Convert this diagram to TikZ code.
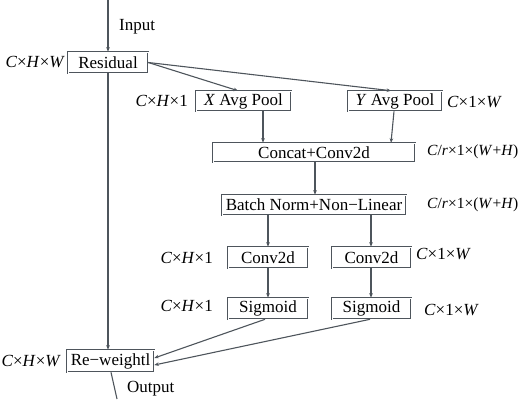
\documentclass[tikz,border=0pt]{standalone}
\usepackage{fontspec}
\setmainfont{Liberation Serif}
\usetikzlibrary{arrows.meta,calc}
\definecolor{linegray}{HTML}{4E555C}
\begin{document}
\begin{tikzpicture}[x=1pt,y=-1pt,
  block/.style={draw=linegray,line width=0.6pt,double=white,double distance=0.9pt,
    inner sep=0pt,minimum height=#1,font=\fontsize{17}{19}\selectfont},
  block/.default=20pt,
  dimlabel/.style={inner sep=0pt,font=\fontsize{17}{19}\selectfont},
  smalldim/.style={inner sep=0pt,font=\fontsize{15.5}{18}\selectfont},
  link/.style={draw=linegray,line width=1.1pt,-{Stealth[length=4.5pt,width=3.6pt]}},
  plain/.style={draw=linegray,line width=1.1pt}]
\useasboundingbox (0,0) rectangle (518,399);

% processing blocks
\node[block=21pt,minimum width=80pt] (res) at (108,62.5) {Residual};
\node[block,minimum width=95pt] (xa) at (243.5,101) {\textit{X} Avg Pool};
\node[block,minimum width=94pt] (ya) at (395,101) {\textit{Y} Avg Pool};
\node[block=19pt,minimum width=202pt] (cat) at (314,152.5) {Concat+Conv2d};
\node[block,minimum width=184pt] (bn) at (314,205) {Batch Norm+Non−Linear};
\node[block=21pt,minimum width=80pt] (cl) at (268,257.5) {Conv2d};
\node[block=21pt,minimum width=79pt] (cr) at (371.5,257.5) {Conv2d};
\node[block=21pt,minimum width=80pt] (sl) at (268,308.5) {Sigmoid};
\node[block=21pt,minimum width=79pt] (sr) at (371.5,308.5) {Sigmoid};
\node[block=22pt,minimum width=87pt] (rw) at (110.5,361) {Re−weightl};

% tensor shapes
\newcommand{\dimtxt}[3]{\textit{#1}×\textit{#2}×\textit{#3}}
\node[dimlabel,anchor=east] (lres) at (65,62) {\dimtxt{C}{H}{W}};
\node[dimlabel,anchor=east] (lxa) at (188,101) {\textit{C}×\textit{H}×1};
\node[dimlabel,anchor=west] (lya) at (447,102) {\textit{C}×1×\textit{W}};
\node[smalldim,anchor=west] (lcat) at (427,152) {\textit{C}/\textit{r}×1×(\textit{W}+\textit{H})};
\node[smalldim,anchor=west] (lbn) at (427,205) {\textit{C}/\textit{r}×1×(\textit{W}+\textit{H})};
\node[dimlabel,anchor=east] (lcl) at (213,258) {\textit{C}×\textit{H}×1};
\node[dimlabel,anchor=west] (lcr) at (416,254) {\textit{C}×1×\textit{W}};
\node[dimlabel,anchor=east] (lsl) at (213,306) {\textit{C}×\textit{H}×1};
\node[dimlabel,anchor=west] (lsr) at (424,310) {\textit{C}×1×\textit{W}};
\node[dimlabel,anchor=east] (lrw) at (61,361) {\dimtxt{C}{H}{W}};

% input / output
\coordinate (in) at (108,0);
\coordinate (out) at (117,399);
\node[dimlabel,anchor=west] (tin) at (119,27) {Input};
\node[dimlabel,anchor=west] (tout) at (127,389) {Output};

% connectors
\draw[link] (in) -- (res.north);
\draw[link] (res.south) -- (res.south |- rw.north);
\draw[link] (res.east) -- ([xshift=-5.5pt]xa.north);
\draw[link] (res.east) -- ([xshift=-4pt]ya.north);
\draw[link] ([xshift=19.5pt]xa.south) -- ([xshift=19.5pt]xa.south |- cat.north);
\draw[link] ([xshift=-1pt]ya.south) -- ([xshift=-4pt]ya.south |- cat.north);
\draw[link] ([xshift=1pt]cat.south) -- ([xshift=1pt]bn.north);
\draw[link] (cl.north |- bn.south) -- (cl.north);
\draw[link] ([xshift=-0.5pt]cr.north |- bn.south) -- ([xshift=-0.5pt]cr.north);
\draw[link] (cl.south) -- (sl.north);
\draw[link] ([xshift=-0.5pt]cr.south) -- ([xshift=-0.5pt]sr.north);
\draw[link] ([xshift=-3pt]sl.south) -- ([yshift=3pt]rw.east);
\draw[link] ([xshift=-1.5pt]sr.south) -- ([yshift=-4pt]rw.east);
\draw[plain] ([xshift=0.5pt]rw.south) -- (out);
\end{tikzpicture}
\end{document}
